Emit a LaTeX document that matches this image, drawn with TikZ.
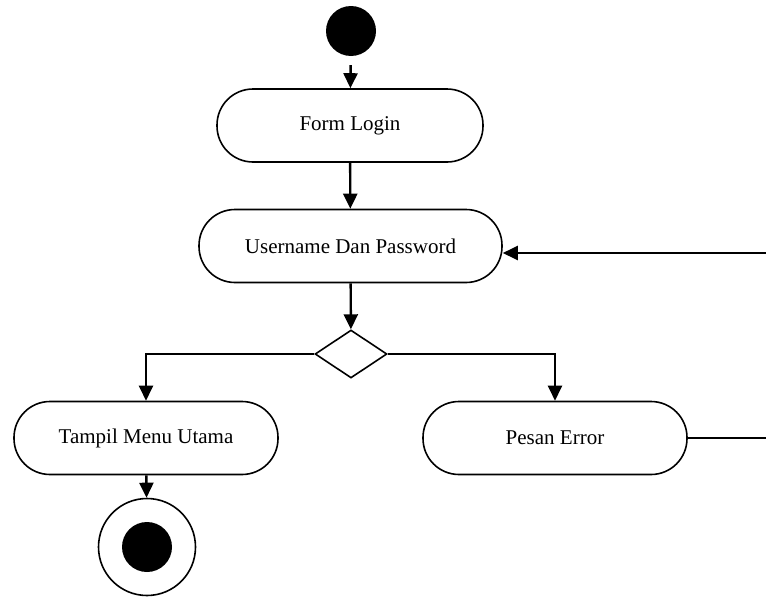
\documentclass[tikz,border=0pt]{standalone}
\usepackage{fontspec}
\setmainfont{Liberation Serif}
\usetikzlibrary{arrows.meta,shapes.geometric}
\begin{document}
\begin{tikzpicture}[x=1pt,y=-1pt,
  activity/.style={draw, line width=1.6pt, rounded corners=36pt,
    minimum height=73pt, inner sep=0pt,
    font=\fontsize{21}{25}\selectfont},
  flow/.style={line width=2.4pt, -{Triangle[length=15pt,width=14pt]}},
  plain/.style={line width=2pt}]
\useasboundingbox (0,0) rectangle (766,597);

% initial and final states
\node[circle, fill=black, minimum size=50pt, inner sep=0pt] (start) at (351,31) {};
\node[circle, draw, line width=1.6pt, minimum size=97pt, inner sep=0pt] (end) at (147,547) {};
\node[circle, fill=black, minimum size=50pt, inner sep=0pt] (endDot) at (147,547) {};

% activities
\node[activity, minimum width=266pt] (form) at (350,125.5) {Form Login};
\node[activity, minimum width=303pt] (user) at (350.5,246) {Username Dan Password};
\node[activity, minimum width=264pt] (menu) at (146,438) {Tampil Menu Utama};
\node[activity, minimum width=264pt] (err) at (555,438) {Pesan Error};

% decision
\node[diamond, draw, line width=1.6pt, minimum width=72pt, minimum height=48pt, inner sep=0pt] (dec) at (351,354) {};

% loose ends of the retry loop
\coordinate (backIn) at (766,253);
\coordinate (backOut) at (766,438);

% connectors
\draw[flow, shorten <=9pt] (start) -- (form);
\draw[flow] (form) -- (user);
\draw[flow] (backIn) -- (backIn -| user.east);
\draw[flow] (user) -- (dec);
\draw[flow] (dec.west) -| (menu.north);
\draw[flow] (dec.east) -| (err.north);
\draw[plain] (err.east) -- (backOut);
\draw[flow] (menu) -- (end);
\end{tikzpicture}
\end{document}
